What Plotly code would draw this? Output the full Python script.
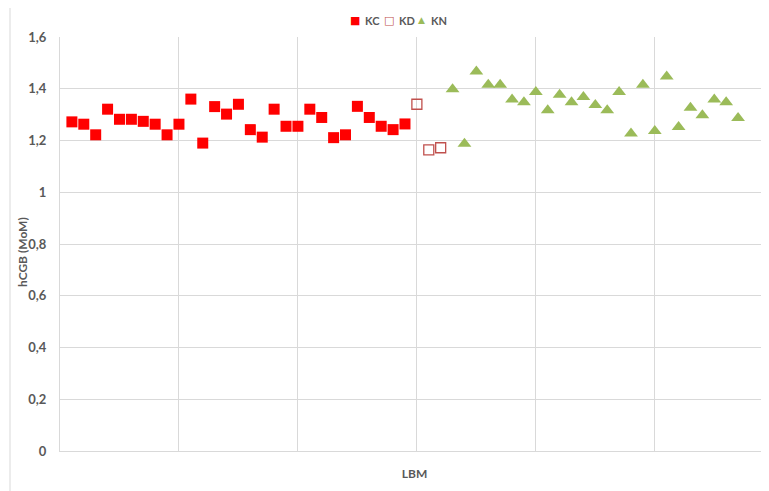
import plotly.graph_objects as go

kc_x = list(range(1, 30))
kc_y = [1.272, 1.263, 1.222, 1.321, 1.282, 1.282, 1.274, 1.263, 1.222, 1.263,
        1.360, 1.190, 1.331, 1.302, 1.340, 1.242, 1.213, 1.321, 1.255, 1.255,
        1.321, 1.289, 1.211, 1.222, 1.332, 1.289, 1.255, 1.242, 1.264]
kd_x = [30, 31, 32]
kd_y = [1.340, 1.164, 1.172]
kn_x = list(range(33, 58))
kn_y = [1.398, 1.187, 1.467, 1.415, 1.415, 1.358, 1.348, 1.387, 1.317, 1.377,
        1.348, 1.368, 1.337, 1.317, 1.387, 1.227, 1.415, 1.237, 1.447, 1.252,
        1.327, 1.298, 1.358, 1.348, 1.287]

y_tickvals = [0, 0.2, 0.4, 0.6, 0.8, 1, 1.2, 1.4, 1.6]
y_ticktext = ["0", "0,2", "0,4", "0,6", "0,8", "1", "1,2", "1,4", "1,6"]

series_names = ["KC", "KD", "KN"]
series_colors = ["#ff0000", "#c0504d", "#9bbb59"]
legend_symbols = ["■", "□", "▲"]

font_fam = "Lato, 'Open Sans', sans-serif"
gray = "#595959"
grid = "#d9d9d9"

OFF = 8  # page body margin
W, H = 769 - OFF, 491 - OFF
ML, MR, MT, MB = 60 - OFF, 0, 37 - OFF, 40
PW, PH = W - ML - MR, H - MT - MB

fig = go.Figure()
fig.add_trace(go.Scatter(x=kc_x, y=kc_y, mode="markers", name=series_names[0],
                         marker=dict(symbol="square", size=11, color=series_colors[0],
                                     line=dict(width=0))))
fig.add_trace(go.Scatter(x=kd_x, y=kd_y, mode="markers", name=series_names[1],
                         marker=dict(symbol="square-open", size=10, color=series_colors[1],
                                     line=dict(width=1.3, color=series_colors[1]))))
fig.add_trace(go.Scatter(x=kn_x, y=kn_y, mode="markers", name=series_names[2],
                         marker=dict(symbol="triangle-up", size=12, color=series_colors[2],
                                     line=dict(width=0))))

fig.update_layout(
    width=W, height=H,
    margin=dict(l=ML, r=MR, t=MT, b=MB, autoexpand=False),
    paper_bgcolor="white", plot_bgcolor="white",
    font=dict(family=font_fam, size=12, color=gray),
    showlegend=False,
    xaxis=dict(range=[0, 59.6], dtick=10, tick0=0, showticklabels=False,
               showgrid=True, gridcolor=grid, gridwidth=1, zeroline=False,
               showline=True, linecolor=grid, linewidth=1, automargin=False,
               title=dict(text="<b>LBM</b>", font=dict(size=12, color=gray), standoff=18)),
    yaxis=dict(range=[0, 1.6], tickvals=y_tickvals, ticktext=["<b>%s</b>" % t for t in y_ticktext],
               tickfont=dict(size=13, color=gray),
               showgrid=True, gridcolor=grid, gridwidth=1, zeroline=False,
               showline=True, linecolor=grid, linewidth=1, automargin=False,
               ticks="", ticklabelstandoff=10),
)

# y-axis title placed at the screen position of the reference
fig.add_annotation(x=(22 - OFF - ML) / PW, y=(H - (252 - OFF) - MB) / PH, xref="paper", yref="paper",
                   text="<b>hCGB (MoM)</b>", textangle=-90, showarrow=False,
                   xanchor="center", yanchor="middle", font=dict(size=12, color=gray))

# legend built from annotations (screen px positions)
leg_y = 20 - OFF
sym_px = [355, 389, 421]
txt_px = [363, 397, 429]
for i, name in enumerate(series_names):
    fig.add_annotation(x=(sym_px[i] - OFF - ML) / PW, y=(H - leg_y - MB) / PH,
                       xref="paper", yref="paper",
                       text=legend_symbols[i], showarrow=False, xanchor="center", yanchor="middle",
                       font=dict(size=11 if i != 2 else 9, color=series_colors[i],
                                 family="DejaVu Sans"))
    fig.add_annotation(x=(txt_px[i] - OFF - ML) / PW, y=(H - leg_y - MB) / PH,
                       xref="paper", yref="paper",
                       text="<b>%s</b>" % name, showarrow=False, xanchor="left", yanchor="middle",
                       font=dict(size=11, color=gray))

fig.add_shape(type="line", xref="paper", yref="paper", x0=(10 - OFF - ML) / PW, x1=(10 - OFF - ML) / PW,
              y0=-MB / PH, y1=1 + MT / PH, line=dict(color=grid, width=1))

fig.write_html("out.html")
